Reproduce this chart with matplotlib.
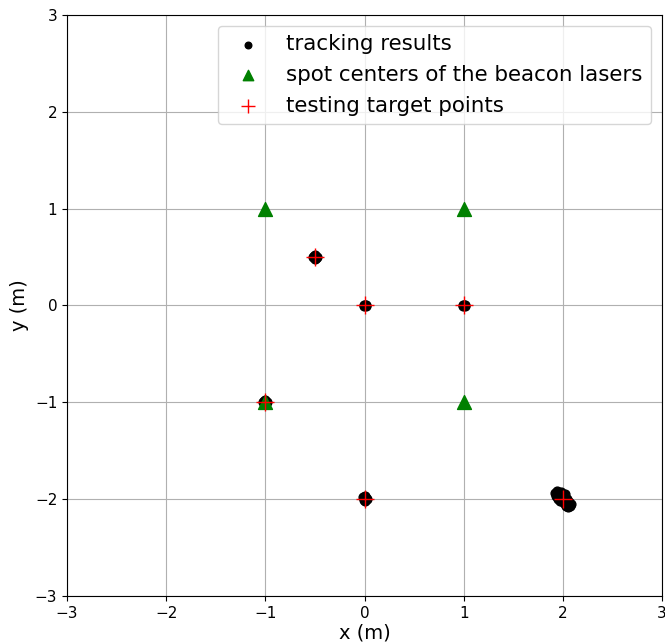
import matplotlib.pyplot as plt

track_x = [-0.51, -0.49, -0.50, -0.52, -0.48, -0.50,
           -0.01, 0.01, 0.00, -0.01, 0.01,
           0.99, 1.01, 1.00, 0.99, 1.01,
           -1.01, -0.99, -1.00, -1.02, -0.98,
           -0.02, 0.02, 0.00, -0.01, 0.01, 0.00,
           1.92, 1.94, 1.96, 1.95, 1.98, 1.97, 2.00, 2.02, 2.01, 2.04, 2.06, 2.03,
           2.05, 2.08, 2.07, 1.99, 2.02, 1.93]
track_y = [0.51, 0.49, 0.52, 0.50, 0.50, 0.48,
           0.01, -0.01, 0.00, -0.01, 0.01,
           0.01, -0.01, 0.00, -0.01, 0.01,
           -0.99, -1.01, -0.98, -1.00, -1.00,
           -1.98, -2.00, -2.02, -2.01, -1.99, -1.97,
           -1.94, -1.92, -1.96, -2.00, -1.93, -2.02, -1.97, -1.95, -2.04, -2.00,
           -2.03, -2.07, -2.08, -2.05, -2.07, -2.01, -1.99, -1.97]

# beacon laser spot centers
beacon_x = [-1, 1, -1, 1]
beacon_y = [1, 1, -1, -1]

# testing target points
target_x = [-0.5, 0, 1, -1, 0, 2]
target_y = [0.5, 0, 0, -1, -2, -2]

fig = plt.figure(figsize=(6.65, 6.43), dpi=100)
ax = fig.add_axes([0.1008, 0.0731, 0.8947, 0.9036])

ax.scatter(track_x, track_y, s=40, c='black', label='tracking results', zorder=3)
ax.scatter(beacon_x, beacon_y, s=100, c='green', marker='^', label='spot centers of the beacon lasers', zorder=4)
ax.scatter(target_x, target_y, s=160, c='red', marker='+', linewidths=1.0, label='testing target points', zorder=5)

ax.set_xlim(-3, 3)
ax.set_ylim(-3, 3)
ax.set_xticks(range(-3, 4))
ax.set_yticks(range(-3, 4))
ax.tick_params(labelsize=11)
ax.grid(True)
ax.set_axisbelow(True)
ax.set_xlabel('x (m)', fontsize=14, labelpad=2)
ax.set_ylabel('y (m)', fontsize=14)
ax.legend(loc='upper right', fontsize=15.4, markerscale=0.75)

plt.savefig('out.png', dpi=100)
